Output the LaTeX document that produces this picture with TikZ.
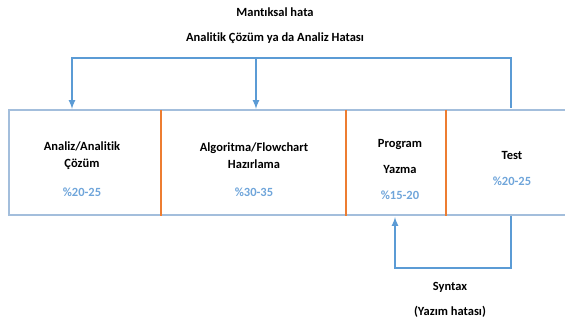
\documentclass[tikz,border=0pt]{standalone}
\usepackage{fontspec}
\setmainfont{Carlito}[Ligatures=NoCommon]
\usetikzlibrary{positioning}
\definecolor{linkblue}{HTML}{5B9BD5}
\definecolor{boxblue}{HTML}{A3BEDC}
\definecolor{pctblue}{HTML}{6FA5DA}
\definecolor{divorange}{HTML}{ED7D31}
\begin{document}
\begin{tikzpicture}[x=1pt, y=-1pt,
    font=\bfseries\fontsize{12.5}{17}\selectfont,
    txt/.style={inner sep=0pt, align=center},
    pct/.style={txt, text=pctblue},
    link/.style={linkblue, line width=2pt, -latex}]
    \useasboundingbox (0,0) rectangle (565,320);

    % Frame of the stages
    \draw [boxblue, line width=1.3pt] (565,110) -- (9,110) -- (9,215) -- (565,215);
    \foreach \x in {161,346,446}
        \draw [divorange, line width=2pt] (\x,110) -- (\x,216);

    % Stage names
    \node [txt] (analiz) at (82,156) {Analiz/Analitik\\Çözüm};
    \node [txt] (algo) at (254,156) {Algoritma/Flowchart\\Hazırlama};
    \node [txt, font=\bfseries\fontsize{12.5}{26}\selectfont] (prog) at (400,156) {Program\\Yazma};
    \node [txt] (test) at (512,155) {Test};

    % Shares
    \node [pct] (pAnaliz) at (82,192) {\%20-25};
    \node [pct] (pAlgo) at (254,192) {\%30-35};
    \node [pct] (pProg) at (400,195) {\%15-20};
    \node [pct] (pTest) at (512,181) {\%20-25};

    % Error labels
    \node [txt] (mantik) at (275,12) {Mantıksal hata};
    \node [txt] (analizHata) at (275,38) {Analitik Çözüm ya da Analiz Hatası};
    \node [txt] (syntax) at (450,287) {Syntax};
    \node [txt] (yazim) at (450,312) {(Yazım hatası)};

    % Feedback edges
    \coordinate (testTop) at (511,108);
    \coordinate (testBot) at (511,216);
    \coordinate (topTurn) at (511,58);
    \coordinate (midTurn) at (256,58);
    \coordinate (analizIn) at (72,109);
    \coordinate (algoIn) at (256,109);
    \coordinate (progIn) at (395,217);
    \coordinate (botTurn) at (511,268);

    \draw [link] (testTop) -- (topTurn) -| (analizIn);
    \draw [link] (midTurn) -- (algoIn);
    \draw [link] (testBot) -- (botTurn) -| (progIn);
\end{tikzpicture}
\end{document}
